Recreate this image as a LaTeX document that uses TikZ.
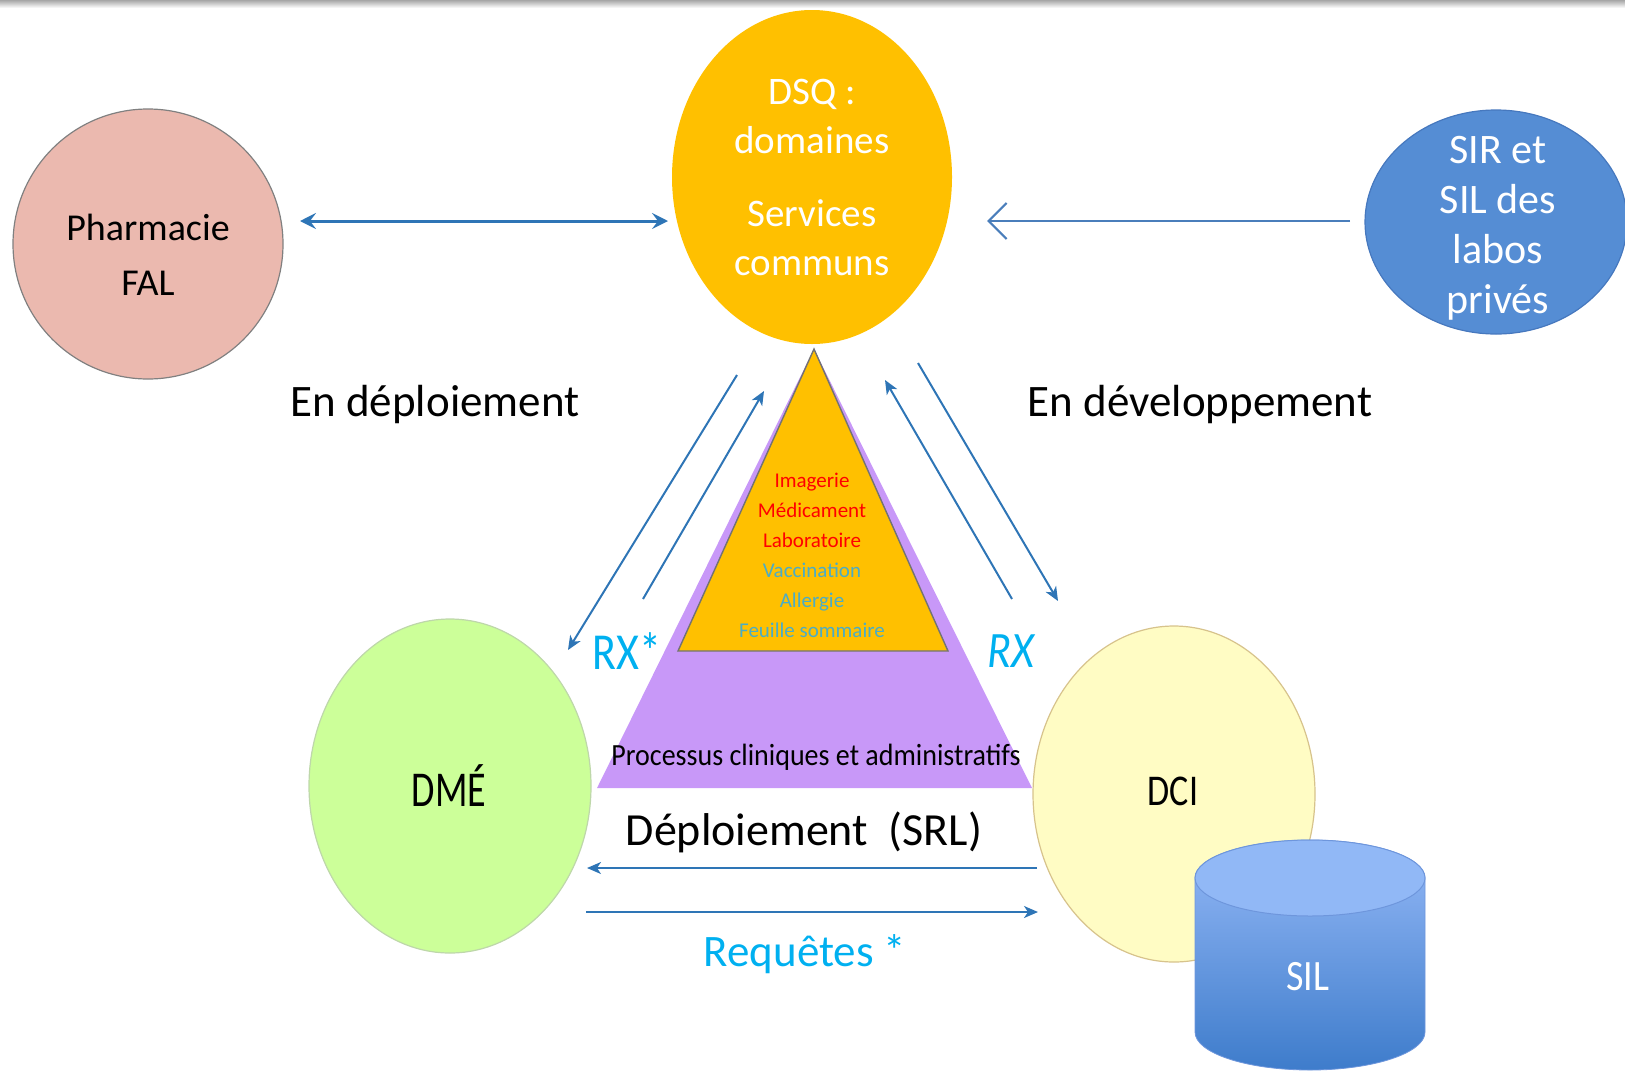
\documentclass[tikz,border=0pt]{standalone}
\usepackage{fontspec}
\setmainfont{Carlito}
\usetikzlibrary{arrows.meta,shapes.geometric}
\definecolor{pharm}{RGB}{235,185,175}
\definecolor{dsq}{RGB}{255,192,0}
\definecolor{sir}{RGB}{85,141,212}
\definecolor{sirb}{RGB}{70,120,190}
\definecolor{dme}{RGB}{204,255,153}
\definecolor{dmeb}{RGB}{190,215,170}
\definecolor{dci}{RGB}{255,252,196}
\definecolor{dcib}{RGB}{215,195,140}
\definecolor{purp}{RGB}{200,152,248}
\definecolor{arrblue}{RGB}{46,117,182}
\definecolor{arrblue2}{RGB}{74,126,187}
\definecolor{cyanb}{RGB}{0,176,240}
\definecolor{teal}{RGB}{75,172,198}
\definecolor{silt}{RGB}{149,185,247}
\definecolor{silb}{RGB}{62,124,203}
\definecolor{siltop}{RGB}{145,184,246}
\definecolor{siledge}{RGB}{110,150,220}
\begin{document}
\begin{tikzpicture}[x=0.5pt,y=-0.5pt,
  blob/.style={ellipse, inner sep=0pt},
  lbl/.style={align=center, inner sep=0pt},
  arr/.style={draw=arrblue, line width=1pt, -{Stealth[length=7pt,width=6pt,inset=2pt]}},
  big/.style={font=\fontsize{19}{27.5}\selectfont}]
\useasboundingbox (0,0) rectangle (1625,1071);
% top rule
\shade[top color=gray!70, bottom color=white] (0,0) rectangle (1625,8);
% circles
\node[blob, fill=pharm, draw=gray, line width=0.6pt, minimum width=135pt, minimum height=135pt] (pharm) at (148,244) {};
\node[lbl, big] (pharmt) at (148,255) {Pharmacie\\FAL};
\node[blob, fill=dsq, minimum width=140pt, minimum height=167pt] (dsq) at (812,177) {};
\node[lbl, text=white, font=\fontsize{19.5}{24.5}\selectfont] (dsqt) at (812,177) {DSQ :\\domaines\\[12pt]Services\\communs};
\node[blob, fill=sir, draw=sirb, line width=0.6pt, minimum width=131pt, minimum height=112pt] (sir) at (1496,222) {};
\node[lbl, text=white, font=\fontsize{21}{25}\selectfont] (sirt) at (1498,228) {SIR et\\SIL des\\labos\\privés};
\node[blob, fill=dme, draw=dmeb, line width=0.6pt, minimum width=141pt, minimum height=167pt] (dme) at (450,786) {};
\node[lbl, big] (dmet) at (449,786) {\scalebox{1}[1.32]{DMÉ}};
\node[blob, fill=dci, draw=dcib, line width=0.6pt, minimum width=141pt, minimum height=168pt] (dci) at (1174,794) {};
\node[lbl, font=\fontsize{18}{22}\selectfont] (dcit) at (1173,791) {\scalebox{1}[1.22]{DCI}};
% cylinder SIL
\shade[top color=silt, bottom color=silb, draw=siledge, line width=0.4pt]
  (1195,878) -- (1195,1032) arc[start angle=180, end angle=360, x radius=57.5pt, y radius=19pt]
  -- (1425,878) arc[start angle=0, end angle=180, x radius=57.5pt, y radius=19pt] -- cycle;
\draw[fill=siltop, draw=siledge, line width=0.5pt] (1310,878) ellipse[x radius=57.5pt, y radius=19pt];
\node[lbl, text=white, big] (silt) at (1308,977) {\scalebox{1}[1.14]{SIL}};
% pyramid
\coordinate (apex) at (814,349);
\coordinate (pl) at (597,788);
\coordinate (pr) at (1032,788);
\coordinate (ol) at (678,651);
\coordinate (or) at (948,651);
\fill[purp] (apex) -- (pr) -- (pl) -- cycle;
\draw[fill=dsq, draw=black!55, line width=0.7pt] (apex) -- (or) -- (ol) -- cycle;
\node[lbl, font=\fontsize{10.5}{15}\selectfont] (domt) at (812,555)
  {\textcolor{red}{Imagerie}\\\textcolor{red}{Médicament}\\\textcolor{red}{Laboratoire}\\\textcolor{teal}{Vaccination}\\\textcolor{teal}{Allergie}\\\textcolor{teal}{Feuille sommaire}};
\node[lbl, font=\fontsize{14}{16}\selectfont] (proc) at (816,757) {\scalebox{1}[1.1]{Processus cliniques et administratifs}};
% labels
\node[lbl, font=\fontsize{22.5}{26}\selectfont] (dep) at (435,404) {En déploiement};
\node[lbl, font=\fontsize{22.5}{26}\selectfont] (dev) at (1200,404) {En développement};
\node[lbl, font=\fontsize{23}{26}\selectfont] (srl) at (804,832) {Déploiement\ \ (SRL)};
\node[lbl, text=cyanb, font=\fontsize{22.5}{26}\selectfont] (req) at (805,954) {Requêtes *};
\node[lbl, text=cyanb, font=\fontsize{22}{26}\selectfont] (rxs) at (627,651) {\scalebox{1}[1.18]{RX*}};
\node[lbl, text=cyanb, font=\fontsize{22}{26}\selectfont\itshape] (rx) at (1011,651) {\scalebox{1}[1.16]{RX}};
% arrow end points
\coordinate (a1) at (300,221); \coordinate (a2) at (668,221);
\coordinate (b1) at (1350,221); \coordinate (b2) at (987,221);
\coordinate (c1) at (737,375); \coordinate (c2) at (568,650);
\coordinate (d1) at (643,599); \coordinate (d2) at (764,391);
\coordinate (e1) at (1012,599); \coordinate (e2) at (885,380);
\coordinate (f1) at (918,363); \coordinate (f2) at (1058,601);
\coordinate (g1) at (1037,868); \coordinate (g2) at (587,868);
\coordinate (h1) at (586,912); \coordinate (h2) at (1038,912);
% arrows
\draw[draw=arrblue, line width=1.5pt, {Stealth[length=8pt,width=8pt,inset=3pt]}-{Stealth[length=8pt,width=8pt,inset=3pt]}] (a1) -- (a2);
\draw[draw=arrblue2, line width=1.1pt, -{Straight Barb[length=9pt,width=18pt,line width=1.1pt]}] (b1) -- (b2);
\draw[arr] (c1) -- (c2);
\draw[arr] (d1) -- (d2);
\draw[arr] (e1) -- (e2);
\draw[arr] (f1) -- (f2);
\draw[arr] (g1) -- (g2);
\draw[arr] (h1) -- (h2);
\end{tikzpicture}
\end{document}
